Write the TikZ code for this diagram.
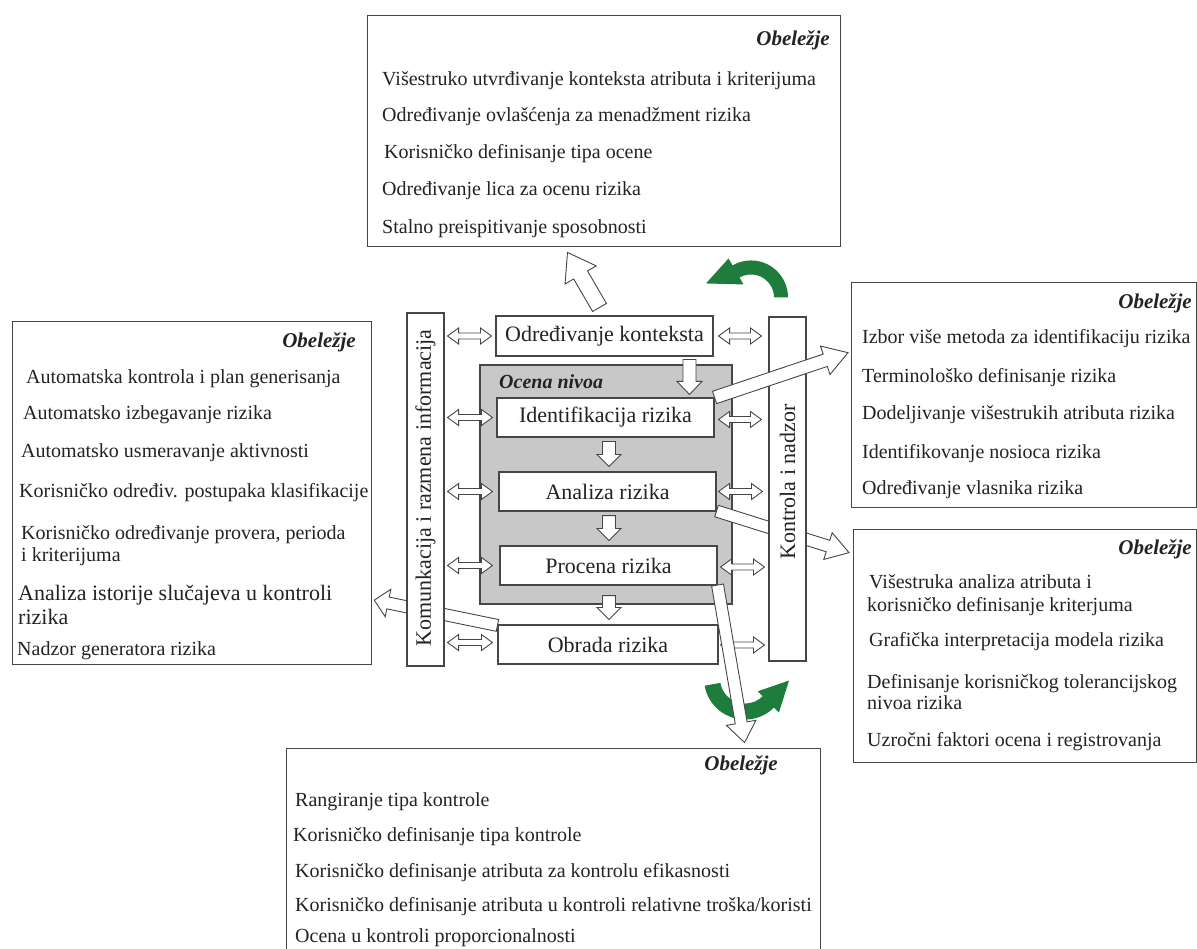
\documentclass[tikz,border=0pt]{standalone}
\usepackage{fontspec}
\setmainfont{Liberation Serif}
\usetikzlibrary{calc}

\definecolor{edge}{RGB}{70,70,70}
\definecolor{panelgray}{RGB}{200,200,200}
\definecolor{leaf}{RGB}{30,125,60}
\definecolor{ink}{RGB}{35,35,35}

% Hollow block arrow: [style]{from}{to}{shaft half width}{head half width}{head length}
\newcommand{\blockarrow}[6][]{%
  \path let \p1=(#2), \p2=(#3) in \pgfextra{%
    \pgfmathsetmacro{\arrowang}{atan2(\y2-\y1,\x2-\x1)}%
    \pgfmathsetmacro{\arrowlen}{veclen(\x2-\x1,\y2-\y1)}%
    \xdef\arrowang{\arrowang}\xdef\arrowlen{\arrowlen}%
    \xdef\arrowx{\x1}\xdef\arrowy{\y1}};
  \begin{scope}[shift={(\arrowx,\arrowy)}, rotate=\arrowang]
    \draw[hollow,#1] (0pt,#4pt) -- ({\arrowlen*1pt-#6pt},#4pt) -- ({\arrowlen*1pt-#6pt},#5pt)
      -- ({\arrowlen*1pt},0pt) -- ({\arrowlen*1pt-#6pt},-#5pt) -- ({\arrowlen*1pt-#6pt},-#4pt)
      -- (0pt,-#4pt) -- cycle;
  \end{scope}}

% Hollow double-headed block arrow, same arguments
\newcommand{\twowayarrow}[6][]{%
  \path let \p1=(#2), \p2=(#3) in \pgfextra{%
    \pgfmathsetmacro{\arrowang}{atan2(\y2-\y1,\x2-\x1)}%
    \pgfmathsetmacro{\arrowlen}{veclen(\x2-\x1,\y2-\y1)}%
    \xdef\arrowang{\arrowang}\xdef\arrowlen{\arrowlen}%
    \xdef\arrowx{\x1}\xdef\arrowy{\y1}};
  \begin{scope}[shift={(\arrowx,\arrowy)}, rotate=\arrowang]
    \draw[hollow,#1] (0pt,0pt) -- (#6pt,#5pt) -- (#6pt,#4pt) -- ({\arrowlen*1pt-#6pt},#4pt)
      -- ({\arrowlen*1pt-#6pt},#5pt) -- ({\arrowlen*1pt},0pt) -- ({\arrowlen*1pt-#6pt},-#5pt)
      -- ({\arrowlen*1pt-#6pt},-#4pt) -- (#6pt,-#4pt) -- (#6pt,-#5pt) -- cycle;
  \end{scope}}

\begin{document}
\begin{tikzpicture}[x=1pt,y=-1pt,
  outer/.style={draw=edge, line width=1.3pt, fill=white, inner sep=0pt, anchor=north west},
  stage/.style={draw=edge, line width=1.1pt, fill=white, inner sep=0pt, minimum width=217pt,
    minimum height=39pt, font=\fontsize{22}{24}\selectfont, text=ink},
  rail/.style={draw=edge, line width=1.1pt, fill=white, inner sep=0pt, minimum width=37pt},
  railtext/.style={rotate=90, inner sep=0pt, font=\fontsize{22}{24}\selectfont, text=ink},
  item/.style={anchor=base west, inner sep=0pt, font=\fontsize{20}{23}\selectfont, text=ink},
  bigitem/.style={item, font=\fontsize{22}{25}\selectfont},
  title/.style={anchor=base east, inner sep=0pt, font=\fontsize{21}{24}\selectfont\bfseries\itshape, text=ink},
  hollow/.style={draw=edge, line width=0.9pt, fill=white, line join=miter},
  greenarrow/.style={fill=leaf}]

\fill[white] (0,0) rectangle (1197,949);
\useasboundingbox (0,0) rectangle (1197,949);

% ---------- central process ----------
\node[draw=edge, line width=1.1pt, fill=panelgray, minimum width=252pt, minimum height=239pt,
  inner sep=0pt] (ocena) at (606,484.5) {};
\node[anchor=base west, inner sep=0pt, font=\fontsize{20}{22}\selectfont\bfseries\itshape, text=ink]
  (ocenalabel) at (499,389) {Ocena nivoa};

\node[stage, minimum height=40pt] (ctx) at (604.5,336) {Određivanje konteksta};
\node[stage] (ident) at (605.5,417.5) {Identifikacija rizika};
\node[stage] (anal) at (607.5,491.5) {Analiza rizika};
\node[stage] (proc) at (608.5,565.5) {Procena rizika};
\node[stage, minimum width=220pt] (obr) at (608,644.5) {Obrada rizika};

% flow between the stages
\blockarrow{$(ctx.south)+(85,3)$}{$(ident.north)+(84,-3)$}{6.5}{12.5}{13}
\blockarrow{$(ident.south)+(3.5,4)$}{$(anal.north)+(1.5,-5)$}{6.5}{12}{12}
\blockarrow{$(anal.south)+(1.5,4)$}{$(proc.north)+(0.5,-5)$}{6.5}{12}{12}
\blockarrow{$(proc.south)+(0.5,10)$}{$(obr.north)+(1,-5)$}{6.5}{12}{12}

% side rails
\node[rail, minimum height=353pt] (kom) at (425.5,489.5) {};
\node[rail, minimum height=344pt] (kon) at (787.5,489) {};

% exchanges with the left rail
\twowayarrow{$(kom.east |- ctx.west)+(3,0)$}{$(ctx.west)+(-4,0)$}{3}{8}{11}
\twowayarrow{$(kom.east |- ident.west)+(3,0)$}{$(ident.west)+(-4,0)$}{3}{8}{11}
\twowayarrow{$(kom.east |- anal.west)+(3,0)$}{$(anal.west)+(-6,0)$}{3}{8}{11}
\twowayarrow{$(kom.east |- proc.west)+(3,0)$}{$(proc.west)+(-7,0)$}{3}{8}{11}
\twowayarrow{$(kom.east |- obr.west)+(3,-2)$}{$(obr.west)+(-5,-2)$}{3}{8}{11}

% exchanges with the right rail
\twowayarrow{$(ctx.east)+(5,0)$}{$(kon.west |- ctx.east)+(-7,0)$}{3}{8}{11}
\twowayarrow{$(ident.east)+(4,2)$}{$(kon.west |- ident.east)+(-7,2)$}{3}{8}{11}
\twowayarrow{$(anal.east)+(2,0)$}{$(kon.west |- anal.east)+(-6,0)$}{3}{8}{11}
\twowayarrow{$(proc.east)+(3,1.5)$}{$(kon.west |- proc.east)+(-4,1.5)$}{3}{8}{11}
\twowayarrow{$(obr.east)+(2,0.5)$}{$(kon.west |- obr.east)+(-4,0.5)$}{3}{8}{11}

% green cycle arrows
\coordinate (gtop) at ($(kon.north)+(-36.5,-19)$);
\fill[greenarrow] ($(gtop)+(0:37)$) arc[start angle=0, end angle=-120, radius=37]
  -- ($(gtop)+(-120:45)$) -- ($(gtop)+(-45,-14)$) -- ($(gtop)+(-120:15)$)
  -- ($(gtop)+(-120:23)$) arc[start angle=-120, end angle=0, radius=23] -- cycle;

\coordinate (gbot) at ($(kon.south)+(-42.5,17)$);
\fill[greenarrow] ($(gbot)+(170:41)$) arc[start angle=170, end angle=45, radius=41]
  -- ($(gbot)+(45:48)$) -- ($(gbot)+(44,2)$) -- ($(gbot)+(45:18)$)
  -- ($(gbot)+(45:25)$) arc[start angle=45, end angle=170, radius=25] -- cycle;

% ---------- feature boxes ----------
\node[outer, minimum width=473pt, minimum height=231pt] (topbox) at (367,15) {};
\node[outer, minimum width=359pt, minimum height=343pt] (lbox) at (12,321) {};
\node[outer, minimum width=345pt, minimum height=225pt] (rtbox) at (851,282) {};
\node[outer, minimum width=343pt, minimum height=233pt] (rlbox) at (853,529) {};
\node[outer, minimum width=534pt, minimum height=215pt] (bbox) at (286,748) {};

% arrows leading to the feature boxes (drawn beneath the rails)
\coordinate (tipL) at ($(lbox.east)+(2,107)$);
\blockarrow{$(obr.north west)+(0,1)$}{tipL}{6}{14}{14}
\coordinate (tipRL) at ($(rlbox.west)+(-4,-93.5)$);
\blockarrow{$(anal.south east)+(0,-0.5)$}{tipRL}{6}{14}{22}

% rails redrawn on top, with their labels
\node[rail, minimum height=353pt] (komtop) at (kom) {};
\node[railtext] (komlabel) at (425.5,488) {Komunkacija i razmena informacija};
\node[rail, minimum height=344pt] (kontop) at (kon) {};
\node[railtext] (konlabel) at (787.5,482) {Kontrola i nadzor};

% arrows drawn over the rails
\coordinate (tipRT) at ($(rtbox.west)+(-3,-42.5)$);
\blockarrow{ident.north east}{tipRT}{6.5}{15}{24}
\coordinate (tipB) at ($(proc.south east)+(27,157)$);
\blockarrow{$(proc.south east)+(0,-0.5)$}{tipB}{6}{15}{20}
\coordinate (tipT) at ($(ctx.north)+(-37,-63)$);
\blockarrow{$(ctx.north)+(-5,-8)$}{tipT}{8}{18}{26}

% ---------- feature texts ----------
\node[title] (tt) at (830,46) {Obeležje};
\node[item] (t1) at (382,86) {Višestruko utvrđivanje konteksta atributa i kriterijuma};
\node[item] (t2) at (382,122) {Određivanje ovlašćenja za menadžment rizika};
\node[item] (t3) at (384,159) {Korisničko definisanje tipa ocene};
\node[item] (t4) at (382,196) {Određivanje lica za ocenu rizika};
\node[item] (t5) at (382,234) {Stalno preispitivanje sposobnosti};

\node[title] (lt) at (356,348) {Obeležje};
\node[item] (l1) at (26,384) {Automatska kontrola i plan generisanja};
\node[item] (l2) at (23,420) {Automatsko izbegavanje rizika};
\node[item] (l3) at (21,457) {Automatsko usmeravanje aktivnosti};
\node[item] (l4) at (19,497) {Korisničko određiv. postupaka klasifikacije};
\node[item] (l5a) at (21,539) {Korisničko određivanje provera, perioda};
\node[item] (l5b) at (21,561) {i kriterijuma};
\node[bigitem] (l6a) at (18,600) {Analiza istorije slučajeva u kontroli};
\node[bigitem] (l6b) at (18,624) {rizika};
\node[item] (l7) at (17,655) {Nadzor generatora rizika};

\node[title] (rtt) at (1192,309) {Obeležje};
\node[item] (r1) at (862,344) {Izbor više metoda za identifikaciju rizika};
\node[item] (r2) at (862,383) {Terminološko definisanje rizika};
\node[item] (r3) at (862,420) {Dodeljivanje višestrukih atributa rizika};
\node[item] (r4) at (862,458) {Identifikovanje nosioca rizika};
\node[item] (r5) at (862,494) {Određivanje vlasnika rizika};

\node[title] (rlt) at (1192,554) {Obeležje};
\node[item] (s1a) at (869,588) {Višestruka analiza atributa i};
\node[item] (s1b) at (867,611) {korisničko definisanje kriterjuma};
\node[item] (s2) at (869,646) {Grafička interpretacija modela rizika};
\node[item] (s3a) at (867,688) {Definisanje korisničkog tolerancijskog};
\node[item] (s3b) at (867,709) {nivoa rizika};
\node[item] (s4) at (867,746) {Uzročni faktori ocena i registrovanja};

\node[title] (bt) at (778,770) {Obeležje};
\node[item] (b1) at (295,806) {Rangiranje tipa kontrole};
\node[item] (b2) at (293,841) {Korisničko definisanje tipa kontrole};
\node[item] (b3) at (295,877) {Korisničko definisanje atributa za kontrolu efikasnosti};
\node[item] (b4) at (295,911) {Korisničko definisanje atributa u kontroli relativne troška/koristi};
\node[item] (b5) at (295,942) {Ocena u kontroli proporcionalnosti};
\end{tikzpicture}
\end{document}
